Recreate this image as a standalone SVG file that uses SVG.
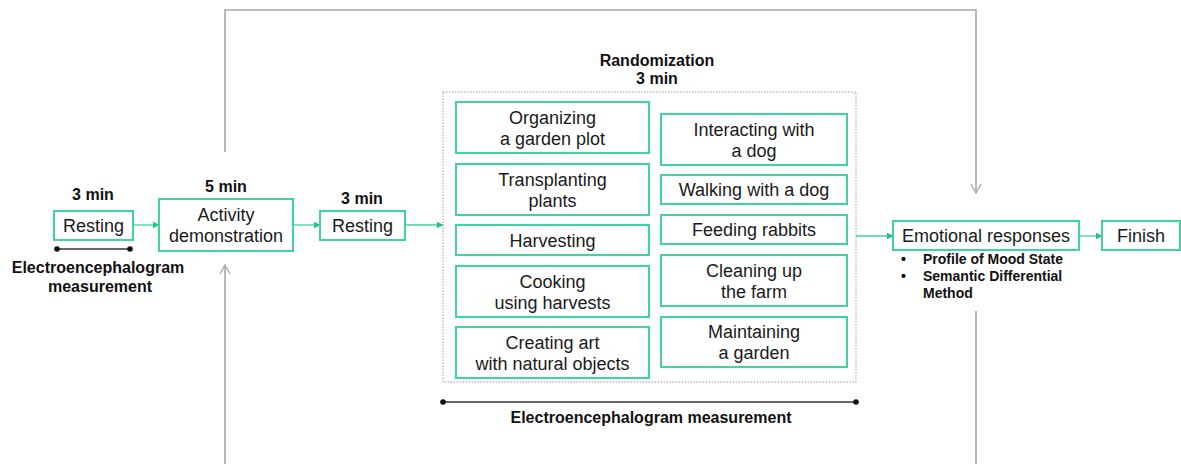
<svg xmlns="http://www.w3.org/2000/svg" width="1181" height="464" viewBox="0 0 1181 464">
  <style>
    .box { fill: #ffffff; stroke: #3fd3a3; stroke-width: 2; }
    .t { font-family: "Liberation Sans", Arial, sans-serif; font-size: 18px; fill: #1a1a1a; text-anchor: middle; }
    .b { font-family: "Liberation Sans", Arial, sans-serif; font-size: 16px; font-weight: bold; fill: #111111; text-anchor: middle; }
    .bl { font-family: "Liberation Sans", Arial, sans-serif; font-size: 14px; font-weight: bold; fill: #111111; }
    .flow { fill: none; stroke: #3fd3a3; stroke-width: 1.3; }
    .loop { fill: none; stroke: #a8a8a8; stroke-width: 1.6; }
    .eeg { stroke: #333333; stroke-width: 1.3; }
  </style>
  <defs>
    <marker id="greenHead" viewBox="0 0 10 10" refX="9" refY="5" markerWidth="7" markerHeight="7" markerUnits="userSpaceOnUse" orient="auto">
      <path d="M0,0 L10,5 L0,10 z" fill="#2fbf8f"/>
    </marker>
    <marker id="grayHead" viewBox="0 0 12 12" refX="11" refY="6" markerWidth="12" markerHeight="12" markerUnits="userSpaceOnUse" orient="auto">
      <path d="M2,1 L11,6 L2,11" fill="none" stroke="#b0b0b0" stroke-width="1.5"/>
    </marker>
  </defs>
  <rect width="1181" height="464" fill="#ffffff"/>

  <!-- connectors -->
  <g id="connectors">
    <line class="flow" x1="133" y1="225" x2="159" y2="225" marker-end="url(#greenHead)"/>
    <line class="flow" x1="293" y1="225" x2="320" y2="225" marker-end="url(#greenHead)"/>
    <line class="flow" x1="405" y1="225" x2="443" y2="225" marker-end="url(#greenHead)"/>
    <line class="flow" x1="856" y1="236" x2="893" y2="236" marker-end="url(#greenHead)"/>
    <line class="flow" x1="1079" y1="236" x2="1102" y2="236" marker-end="url(#greenHead)"/>
    <!-- feedback loop between demonstration and emotional responses -->
    <polyline class="loop" points="225,152 225,10 976,10 976,193" marker-end="url(#grayHead)"/>
    <line class="loop" x1="225" y1="464" x2="225" y2="265" marker-end="url(#grayHead)"/>
    <line class="loop" x1="976" y1="311" x2="976" y2="464"/>
  </g>

  <!-- baseline resting -->
  <g id="resting1">
    <text class="b" x="93" y="200">3 min</text>
    <rect class="box" x="54" y="211" width="79" height="29"/>
    <text class="t" x="93.5" y="232">Resting</text>
  </g>
  <g id="eeg1">
    <line class="eeg" x1="57" y1="249" x2="130" y2="249"/>
    <circle cx="57" cy="249" r="2.8" fill="#111"/>
    <circle cx="130" cy="249" r="2.8" fill="#111"/>
    <text class="b" x="98" y="273">Electroencephalogram</text>
    <text class="b" x="100" y="292">measurement</text>
  </g>

  <g id="demonstration">
    <text class="b" x="226" y="192">5 min</text>
    <rect class="box" x="159" y="199" width="134" height="52"/>
    <text class="t" x="226" y="220.5">Activity</text>
    <text class="t" x="226" y="241.5">demonstration</text>
  </g>

  <g id="resting2">
    <text class="b" x="362" y="204">3 min</text>
    <rect class="box" x="320" y="211" width="85" height="29"/>
    <text class="t" x="362.5" y="232">Resting</text>
  </g>

  <!-- randomized activity block -->
  <g id="randomization">
    <text class="b" x="657" y="66">Randomization</text>
    <text class="b" x="657" y="84">3 min</text>
    <rect x="443" y="92" width="413" height="290" fill="none" stroke="#9a9a9a" stroke-width="1" stroke-dasharray="1.5 1.5"/>
  </g>

  <g id="act-organizing">
    <rect class="box" x="456" y="102" width="193" height="51"/>
    <text class="t" x="552.5" y="123.5">Organizing</text>
    <text class="t" x="552.5" y="144.5">a garden plot</text>
  </g>
  <g id="act-transplanting">
    <rect class="box" x="456" y="164" width="193" height="51"/>
    <text class="t" x="552.5" y="185.5">Transplanting</text>
    <text class="t" x="552.5" y="206.5">plants</text>
  </g>
  <g id="act-harvesting">
    <rect class="box" x="456" y="225" width="193" height="30"/>
    <text class="t" x="552.5" y="246.5">Harvesting</text>
  </g>
  <g id="act-cooking">
    <rect class="box" x="456" y="266" width="193" height="51"/>
    <text class="t" x="552.5" y="287.5">Cooking</text>
    <text class="t" x="552.5" y="308.5">using harvests</text>
  </g>
  <g id="act-art">
    <rect class="box" x="456" y="327" width="193" height="51"/>
    <text class="t" x="552.5" y="348.5">Creating art</text>
    <text class="t" x="552.5" y="369.5">with natural objects</text>
  </g>

  <g id="act-interacting">
    <rect class="box" x="661" y="114" width="186" height="51"/>
    <text class="t" x="754" y="135.5">Interacting with</text>
    <text class="t" x="754" y="156.5">a dog</text>
  </g>
  <g id="act-walking">
    <rect class="box" x="661" y="175" width="186" height="29"/>
    <text class="t" x="754" y="196">Walking with a dog</text>
  </g>
  <g id="act-feeding">
    <rect class="box" x="661" y="215" width="186" height="29"/>
    <text class="t" x="754" y="236">Feeding rabbits</text>
  </g>
  <g id="act-cleaning">
    <rect class="box" x="661" y="255" width="186" height="51"/>
    <text class="t" x="754" y="276.5">Cleaning up</text>
    <text class="t" x="754" y="297.5">the farm</text>
  </g>
  <g id="act-maintaining">
    <rect class="box" x="661" y="317" width="186" height="50"/>
    <text class="t" x="754" y="338">Maintaining</text>
    <text class="t" x="754" y="359">a garden</text>
  </g>

  <g id="eeg2">
    <line class="eeg" x1="443" y1="402" x2="856" y2="402"/>
    <circle cx="443" cy="402" r="2.8" fill="#111"/>
    <circle cx="856" cy="402" r="2.8" fill="#111"/>
    <text class="b" x="651" y="423">Electroencephalogram measurement</text>
  </g>

  <g id="emotional">
    <rect class="box" x="893" y="221" width="186" height="29"/>
    <text class="t" x="986" y="242">Emotional responses</text>
    <text class="bl" x="901" y="264">•</text>
    <text class="bl" x="923" y="264">Profile of Mood State</text>
    <text class="bl" x="901" y="281">•</text>
    <text class="bl" x="923" y="281">Semantic Differential</text>
    <text class="bl" x="923" y="298">Method</text>
  </g>

  <g id="finish">
    <rect class="box" x="1102" y="221" width="78" height="29"/>
    <text class="t" x="1141" y="242">Finish</text>
  </g>
</svg>
